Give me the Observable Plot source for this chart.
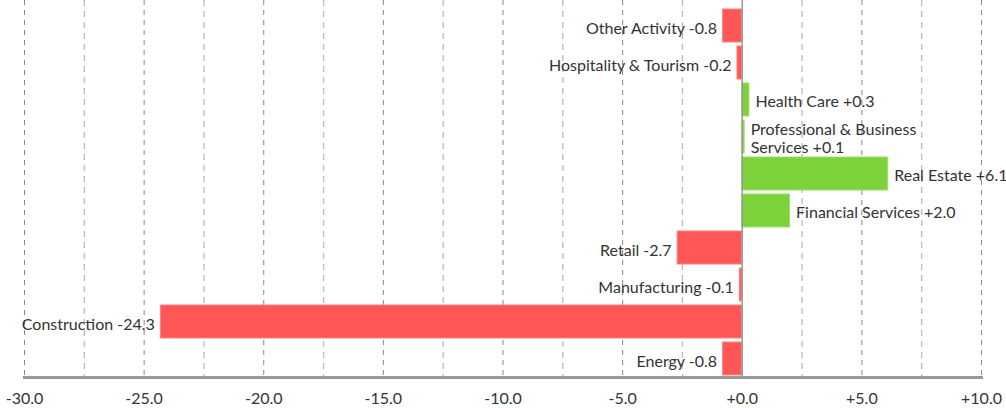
<!DOCTYPE html>
<html>
<head>
<meta charset="utf-8">
<script src="https://cdn.jsdelivr.net/npm/d3@7"></script>
<script src="https://cdn.jsdelivr.net/npm/@observablehq/plot@0.6"></script>
<style>
  html, body { margin: 0; padding: 0; background: #fff; }
  #chart { width: 1006px; height: 408px; }
  svg { font-family: Lato, "Open Sans", sans-serif; }
</style>
</head>
<body>
<div id="chart"></div>
<script>
const categories = [
  "Other Activity",
  "Hospitality & Tourism",
  "Health Care",
  "Professional & Business Services",
  "Real Estate",
  "Financial Services",
  "Retail",
  "Manufacturing",
  "Construction",
  "Energy"
];
const values = [-0.8, -0.2, 0.3, 0.1, 6.1, 2.0, -2.7, -0.1, -24.3, -0.8];
const majorTicks = [-30, -25, -20, -15, -10, -5, 0, 5, 10];
const minorTicks = [-27.5, -22.5, -17.5, -12.5, -7.5, -2.5, 2.5, 7.5];

const fmt = v => (v >= 0 ? "+" : "") + v.toFixed(1);
const data = categories.map((c, i) => ({
  category: c,
  value: values[i],
  label: c + " " + fmt(values[i])
}));
const pos = data.filter(d => d.value >= 0);
const neg = data.filter(d => d.value < 0);

const chart = Plot.plot({
  width: 1006,
  height: 408,
  marginTop: 0,
  marginLeft: 24,
  marginRight: 25,
  marginBottom: 31,
  style: { fontFamily: "Lato, 'Open Sans', sans-serif", fontSize: "16px", color: "#333" },
  x: { domain: [-30, 10], ticks: majorTicks, tickFormat: fmt },
  y: { domain: categories, insetTop: 9, insetBottom: 2, paddingInner: 0.11, paddingOuter: 0, axis: null },
  marks: [
    Plot.ruleX(minorTicks, { stroke: "#bbb", strokeWidth: 1.3, strokeDasharray: "6,5" }),
    Plot.ruleX(majorTicks.filter(t => t !== 0), { stroke: "#888", strokeWidth: 1, strokeDasharray: "5,5" }),
    Plot.barX(data, {
      x: "value",
      y: "category",
      fill: d => d.value >= 0 ? "#7dd13b" : "#ff5757",
      stroke: d => d.value >= 0 ? "#9ee06a" : "#ff8080",
      strokeWidth: 1
    }),
    Plot.ruleX([0], { stroke: "#999", strokeWidth: 1.5 }),
    Plot.frame({ anchor: "bottom", stroke: "#999", strokeWidth: 3 }),
    Plot.axisX({ ticks: majorTicks, tickFormat: fmt, tickSize: 0, tickPadding: 15, fontSize: 16, fill: "#333", label: null }),
    Plot.text(neg, {
      x: "value", y: "category", text: "label",
      textAnchor: "end", dx: -6, dy: 3, fontSize: 16, fill: "#333"
    }),
    Plot.text(pos, {
      x: "value", y: "category", text: "label",
      textAnchor: "start", dx: 6, dy: 1, fontSize: 16, fill: "#333", lineWidth: 12, lineHeight: 1.15
    })
  ]
});
document.getElementById("chart").appendChild(chart);
</script>
</body>
</html>
